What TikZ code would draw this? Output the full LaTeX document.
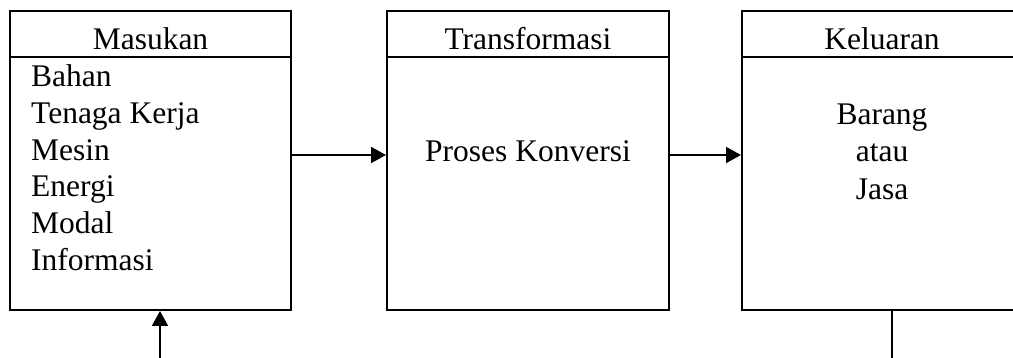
\documentclass[tikz,border=0pt]{standalone}
\usepackage{fontspec}
\setmainfont{Liberation Serif}
\usetikzlibrary{arrows.meta}
\begin{document}
\begin{tikzpicture}[x=1pt,y=-1pt,
  box/.style={draw, line width=2pt, fill=white, inner sep=0pt, minimum height=299pt},
  sep/.style={line width=2pt},
  txt/.style={font=\fontsize{31.5}{36.5}\selectfont, inner sep=0pt},
  arr/.style={line width=2pt, -{Triangle[length=15pt,width=16pt]}}]
\clip (0,0) rectangle (1013,358);
\useasboundingbox (0,0) rectangle (1013,358);
\fill[white] (0,0) rectangle (1013,358);
% boxes
\node[box, minimum width=281pt] (m) at (150.5,160.5) {};
\node[box, minimum width=282pt] (t) at (528,160.5) {};
\node[box, minimum width=280pt] (k) at (882,160.5) {};
% header separators
\draw[sep] ([yshift=-47pt]m.north west) -- ([yshift=-47pt]m.north east);
\draw[sep] ([yshift=-47pt]t.north west) -- ([yshift=-47pt]t.north east);
\draw[sep] ([yshift=-47pt]k.north west) -- ([yshift=-47pt]k.north east);
% headers
\node[txt, anchor=base] (mh) at (150.5,50) {Masukan};
\node[txt, anchor=base] (th) at (528,50) {Transformasi};
\node[txt, anchor=base] (kh) at (882,50) {Keluaran};
% contents
\node[txt, anchor=base west] (m1) at (31,87) {Bahan};
\node[txt, anchor=base west] (m2) at (31,124) {Tenaga Kerja};
\node[txt, anchor=base west] (m3) at (31,161) {Mesin};
\node[txt, anchor=base west] (m4) at (31,197) {Energi};
\node[txt, anchor=base west] (m5) at (31,234) {Modal};
\node[txt, anchor=base west] (m6) at (31,271) {Informasi};
\node[txt, anchor=base] (tc) at (528,162) {Proses Konversi};
\node[txt, anchor=base] (k1) at (882,125) {Barang};
\node[txt, anchor=base] (k2) at (882,162) {atau};
\node[txt, anchor=base] (k3) at (882,200) {Jasa};
% connectors
\draw[arr] ([yshift=5.5pt]m.east) -- ([yshift=5.5pt]t.west);
\draw[arr] ([yshift=5.5pt]t.east) -- ([yshift=5.5pt]k.west);
\coordinate (fb1) at (892,400);
\coordinate (fb2) at (160,400);
\draw[arr] (k.south -| fb1) -- (fb1) -- (fb2) -- (m.south -| fb2);
\end{tikzpicture}
\end{document}
